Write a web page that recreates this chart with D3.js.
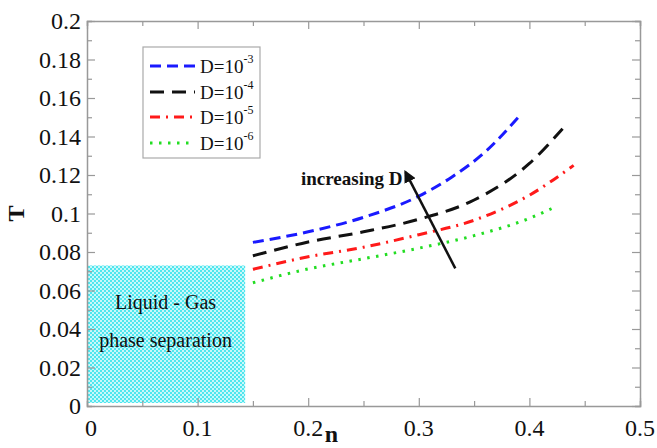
<!DOCTYPE html>
<html>
<head>
<meta charset="utf-8">
<script src="https://cdn.jsdelivr.net/npm/d3@7"></script>
<style>
  html, body { margin: 0; padding: 0; background: #fff; }
  svg { display: block; }
</style>
</head>
<body>
<svg id="chart" width="657" height="448"></svg>
<script>
// Phase diagram: temperature T vs density n for several values of D
const xTicks = [0, 0.1, 0.2, 0.3, 0.4, 0.5];
const yTicks = [0, 0.02, 0.04, 0.06, 0.08, 0.1, 0.12, 0.14, 0.16, 0.18, 0.2];

const seriesNames = ["D=10", "D=10", "D=10", "D=10"];
const seriesExponents = ["-3", "-4", "-5", "-6"];
const seriesColors = ["#1a1aff", "#111111", "#ff1a1a", "#22dd22"];

const curveD3 = [[0.15,0.085],[0.2,0.0905],[0.25,0.098],[0.3,0.109],[0.33,0.119],[0.36,0.132],[0.39,0.150]];
const curveD4 = [[0.15,0.078],[0.2,0.0852],[0.25,0.0905],[0.3,0.097],[0.35,0.107],[0.40,0.126],[0.43,0.144]];
const curveD5 = [[0.15,0.071],[0.2,0.0775],[0.25,0.0825],[0.3,0.089],[0.35,0.0965],[0.40,0.1095],[0.44,0.125]];
const curveD6 = [[0.15,0.064],[0.2,0.0712],[0.25,0.0765],[0.3,0.082],[0.35,0.0885],[0.40,0.0975],[0.42,0.1025]];
const curves = [curveD3, curveD4, curveD5, curveD6];

// coexistence region (liquid-gas) extent in data units
const regionN = [0, 0.143];
const regionT = [0, 0.073];

// "increasing D" arrow, from tail to head
const arrowPts = [[0.333, 0.0715], [0.288, 0.1215]];

const dashes = ["11,6", "14,8", "10,6,2,6", "2.5,6.5"];

const FONT = "Liberation Serif";
const svg = d3.select("#chart");
const margin = {left: 87, right: 17, top: 21, bottom: 42};
const W = 657, H = 448;
const x = d3.scaleLinear().domain([0, 0.5]).range([margin.left, W - margin.right]);
const y = d3.scaleLinear().domain([0, 0.2]).range([H - margin.bottom, margin.top]);

// hatched fill pattern
const defs = svg.append("defs");
const pat = defs.append("pattern").attr("id", "mesh").attr("patternUnits", "userSpaceOnUse")
  .attr("width", 4).attr("height", 4);
pat.append("rect").attr("width", 4).attr("height", 4).attr("fill", "#4fe6ee");
pat.append("rect").attr("x", 0).attr("y", 0).attr("width", 2).attr("height", 2).attr("fill", "#c8f8fa");
pat.append("rect").attr("x", 2).attr("y", 2).attr("width", 2).attr("height", 2).attr("fill", "#c8f8fa");

svg.append("rect")
  .attr("x", x(regionN[0]) + 1).attr("y", y(regionT[1]))
  .attr("width", x(regionN[1]) - x(regionN[0]) - 1)
  .attr("height", y(regionT[0]) - y(regionT[1]) - 3)
  .attr("fill", "url(#mesh)");

function txt(sel) {
  return sel.append("text").attr("font-family", FONT).attr("fill", "#111");
}

txt(svg).attr("x", x(0.071)).attr("y", y(0.0505))
  .attr("text-anchor", "middle").attr("font-size", 20).text("Liquid - Gas");
txt(svg).attr("x", x(0.071)).attr("y", y(0.0305))
  .attr("text-anchor", "middle").attr("font-size", 20).text("phase separation");

// axes with inward ticks on all four sides
const axisColor = "#999";
function styleAxis(g) {
  g.selectAll("path.domain").attr("stroke", axisColor).attr("stroke-width", 1.5);
  g.selectAll(".tick line").attr("stroke", axisColor).attr("stroke-width", 1.2);
}
const xMinor = d3.range(0, 0.5001, 0.05);
const yMinor = d3.range(0, 0.2001, 0.01);
const isMajor = (list, d) => list.some(t => Math.abs(t - d) < 1e-9);

const axBottom = svg.append("g").attr("transform", `translate(0,${y(0)})`)
  .call(d3.axisBottom(x).tickValues(xMinor).tickSize(-5).tickFormat(""));
axBottom.selectAll(".tick line").filter(d => isMajor(xTicks, d)).attr("y2", -8);
styleAxis(axBottom);
const axTop = svg.append("g").attr("transform", `translate(0,${y(0.2)})`)
  .call(d3.axisTop(x).tickValues(xMinor).tickSize(-5).tickFormat(""));
axTop.selectAll(".tick line").filter(d => isMajor(xTicks, d)).attr("y2", 8);
styleAxis(axTop);
const axLeft = svg.append("g").attr("transform", `translate(${x(0)},0)`)
  .call(d3.axisLeft(y).tickValues(yMinor).tickSize(-5).tickFormat(""));
axLeft.selectAll(".tick line").filter(d => isMajor(yTicks, d)).attr("x2", 8);
styleAxis(axLeft);
const axRight = svg.append("g").attr("transform", `translate(${x(0.5)},0)`)
  .call(d3.axisRight(y).tickValues(yMinor).tickSize(-5).tickFormat(""));
axRight.selectAll(".tick line").filter(d => isMajor(yTicks, d)).attr("x2", -8);
styleAxis(axRight);

// tick labels
const fmt = d => d === 0 ? "0" : String(+d.toFixed(2));
xTicks.forEach(d => {
  txt(svg).attr("x", x(d) + (d === 0 ? 4 : 0)).attr("y", y(0) + 30)
    .attr("text-anchor", "middle").attr("font-size", 24).text(fmt(d));
});
yTicks.forEach(d => {
  txt(svg).attr("x", x(0) - 6).attr("y", y(d) + 8)
    .attr("text-anchor", "end").attr("font-size", 24).text(fmt(d));
});

// axis titles
txt(svg).attr("x", x(0.221)).attr("y", 442)
  .attr("text-anchor", "middle").attr("font-size", 24).attr("font-weight", "bold").text("n");
txt(svg).attr("transform", `translate(24,${y(0.1)}) rotate(-90)`)
  .attr("text-anchor", "middle").attr("font-size", 24).attr("font-weight", "bold").text("T");

// curves
const line = d3.line().x(d => x(d[0])).y(d => y(d[1])).curve(d3.curveMonotoneX);
svg.selectAll(".curve").data(curves).enter().append("path")
  .attr("d", line).attr("fill", "none")
  .attr("stroke", (d, i) => seriesColors[i])
  .attr("stroke-width", 3)
  .attr("stroke-dasharray", (d, i) => dashes[i]);

// arrow
defs.append("marker").attr("id", "head").attr("viewBox", "0 0 10 10")
  .attr("refX", 8).attr("refY", 5).attr("markerWidth", 5).attr("markerHeight", 5)
  .attr("orient", "auto").append("path").attr("d", "M0,0L10,5L0,10z").attr("fill", "#111");
svg.append("line")
  .attr("x1", x(arrowPts[0][0])).attr("y1", y(arrowPts[0][1]))
  .attr("x2", x(arrowPts[1][0])).attr("y2", y(arrowPts[1][1]))
  .attr("stroke", "#111").attr("stroke-width", 2.5).attr("marker-end", "url(#head)");
txt(svg).attr("x", x(arrowPts[1][0]) - 3).attr("y", y(arrowPts[1][1]) + 13)
  .attr("text-anchor", "end").attr("font-size", 19).attr("font-weight", "bold").text("increasing D");

// legend
const lg = svg.append("g").attr("transform", "translate(143,47)");
lg.append("rect").attr("width", 117).attr("height", 111)
  .attr("fill", "#fff").attr("stroke", "#aaa").attr("stroke-width", 1.2);
const rowY = [19, 45, 70, 96];
seriesNames.forEach((name, i) => {
  lg.append("line").attr("x1", 7).attr("x2", 52).attr("y1", rowY[i]).attr("y2", rowY[i])
    .attr("stroke", seriesColors[i]).attr("stroke-width", 3).attr("stroke-dasharray", dashes[i]);
  const t = txt(lg).attr("x", 57).attr("y", rowY[i] + 7).attr("font-size", 19);
  t.append("tspan").text(name);
  t.append("tspan").attr("dy", -10).attr("font-size", 12).text(seriesExponents[i]);
});
</script>
</body>
</html>
